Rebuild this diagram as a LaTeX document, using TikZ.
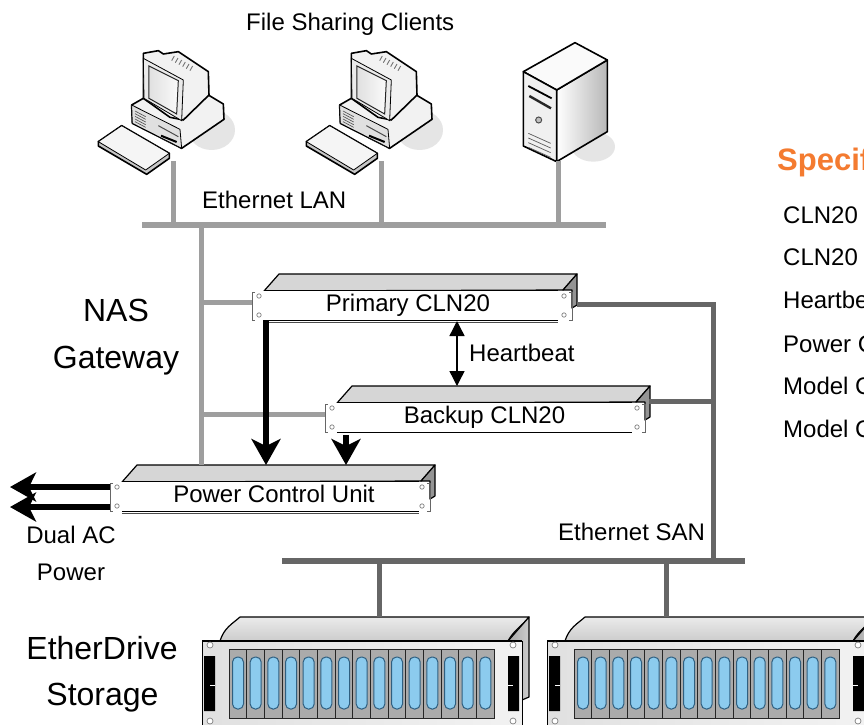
\documentclass[tikz,border=0pt]{standalone}
\usepackage{fontspec}
\setmainfont{Liberation Sans}
\usetikzlibrary{arrows.meta,calc,shadings}
\definecolor{lanGray}{HTML}{9E9E9E}
\definecolor{sanGray}{HTML}{666666}
\definecolor{orangeHead}{HTML}{F47B30}
\definecolor{bayBlue}{HTML}{8CCBEE}
\definecolor{bayEdge}{HTML}{2F5F80}
\newcommand{\szA}{\fontsize{24}{28}\selectfont}
\newcommand{\szB}{\fontsize{32}{36}\selectfont}
\tikzset{
  lanline/.style={draw=lanGray,line width=5pt},
  sanline/.style={draw=sanGray,line width=5pt},
  bus/.style={inner sep=0pt,minimum height=6pt},
  powerline/.style={draw=black,line width=6pt,-{Stealth[length=26pt,width=29pt,inset=7pt]}},
  unitface/.style={fill=white,inner sep=0pt,minimum height=29pt,text height=17pt,text depth=5pt,font=\szA},
  lbl/.style={anchor=base west,inner sep=0pt,font=\szA},
  bigl/.style={anchor=base,inner sep=0pt,font=\szB},
  edge3d/.style={draw=black,line width=1.2pt,line join=round},
  screw/.style={draw=gray,fill=white,line width=.7pt},
  outl/.style={draw=black,line width=1.6pt,line join=round},
}
% rack unit: name, X, Y, W, text
\newcommand{\rackunit}[5]{
  \path[edge3d,fill=black!16] (#2,#3) -- (#2+15,#3-17) -- (#2+313,#3-17) -- (#2+299,#3-1) -- cycle;
  \path[edge3d,fill=black!42] (#2+313,#3-17) -- (#2+299,#3-1) -- (#2+308,#3-1) -- (#2+308,#3+17) -- (#2+313,#3+14) -- cycle;
  \fill[white] (#2-11,#3) rectangle (#2+307,#3+29);
  \node[unitface,minimum width=#4pt] (#1) at (#2+#4/2,#3+14.5) {#5};
  \draw[black,line width=1.2pt] (#1.north west) -- (#1.north east);
  \draw[black,line width=1.1pt] (#1.south west) -- (#1.south east);
  \draw[black!60,line width=.8pt] (#2-9,#3+1) -- (#2-12,#3+1) -- (#2-12,#3+29) -- (#2-9,#3+29);
  \draw[black!60,line width=.8pt] (#2+305,#3+1) -- (#2+308,#3+1) -- (#2+308,#3+29) -- (#2+305,#3+29);
  \path[screw] (#2-5,#3+5) circle (2.2pt) (#2-5,#3+24) circle (2.2pt) (#2+300,#3+5) circle (2.2pt) (#2+300,#3+24) circle (2.2pt);
  \coordinate (#1ear) at (#2-12,#3+11.5);
  \coordinate (#1side) at (#2+313,#3+13);
}
% storage shelf, left edge X
\newcommand{\storageshelf}[1]{
  \begin{scope}[shift={(#1,0)}]
    \path[edge3d,top color=black!8,bottom color=black!20] (18,641) .. controls (22,628) and (30,624) .. (38,617) -- (327,617) .. controls (320,626) and (312,630) .. (306,641) -- cycle;
    \path[edge3d,left color=black!35,right color=black!20] (327,617) -- (306,641) -- (306,700) -- (320,700) -- (327,697) -- cycle;
    \path[left color=black!12,right color=black!5,draw=black,line width=.8pt] (0,641) -- (320,641) -- (320,730) -- (0,730) -- cycle;
    \draw[black,line width=1.3pt] (0,641) -- (320,641);
    \fill[black] (2,656) rectangle (13,711) (306,656) rectangle (317,711);
    \draw[white,line width=.8pt] (8,685) -- (13,685) (306,685) -- (311,685);
    \path[screw] (8,645) circle (3pt) (8,721) circle (3pt) (311,645) circle (3pt) (311,721) circle (3pt);
    \foreach \i in {0,...,14}{
      \path[fill=black!33,draw=black!85,line width=.9pt] (27+\i*17.67,649) rectangle (27+\i*17.67+17.67,718);
      \path[fill=bayBlue,draw=bayEdge,line width=1pt,rounded corners=5pt] (30.5+\i*17.67,657) rectangle (41.5+\i*17.67,709);
    }
  \end{scope}
}
% desktop computer, in units of the enlarged sketch
\newcommand{\desktop}[2]{
  \begin{scope}[shift={(#1,#2)},x=.3333pt,y=-.3333pt]
    \fill[black!10] (395,300) ellipse (70 and 60);
    \path[outl,fill=black!5] (155,225) -- (190,205) -- (385,195) -- (430,222) -- (432,268) -- (305,355) -- (157,280) -- cycle;
    \path[outl,fill=black!12,line width=.8pt] (155,225) -- (300,298) -- (305,355) -- (157,280) -- cycle;
    \foreach \k in {0,...,4}{\draw[black!70,line width=.6pt] (165,243+\k*8) -- (197,260+\k*8);}
    \draw[black!70,line width=1pt] (235,287) -- (295,320);
    \draw[black,line width=2pt] (243,317) -- (290,336);
    \path[outl,fill=black!5] (190,70) -- (235,62) -- (250,72) -- (295,65) -- (385,125) -- (387,195) -- (310,270) -- (270,262) -- (190,205) -- cycle;
    \path[draw=black,line width=.8pt,fill=black!8] (190,85) -- (310,150) -- (305,272) -- (192,205) -- cycle;
    \path[draw=black!85,line width=1pt,left color=black!12,right color=black!2] (207,108) -- (295,152) -- (290,252) -- (207,205) -- cycle;
    \foreach \k in {0,...,5}{\draw[black!55,line width=.9pt] (283+\k*11,78+\k*6) -- (275+\k*11,92+\k*6);}
    \path[outl,fill=black!22] (55,335) -- (125,287) -- (268,370) -- (268,385) -- (200,433) -- (55,348) -- cycle;
    \path[draw=black,line width=.8pt,fill=black!4] (55,335) -- (125,287) -- (268,370) -- (197,420) -- cycle;
  \end{scope}
}
\begin{document}
\begin{tikzpicture}[x=1pt,y=-1pt]
\useasboundingbox (0,0) rectangle (864,724);
\clip (0,0) rectangle (864,724);
\fill[white] (0,0) rectangle (864,724);

% clients
\desktop{80}{30}
\desktop{288}{30}
\begin{scope}[shift={(500,30)},x=.3333pt,y=-.3333pt]
  \fill[black!10] (280,350) ellipse (65 and 45);
  \path[outl,left color=white,right color=black!28] (170,180) -- (322,90) -- (322,305) -- (170,395) -- cycle;
  \path[outl,fill=black!2] (70,125) -- (225,38) -- (322,90) -- (170,180) -- cycle;
  \path[outl,fill=black!6] (70,125) -- (170,180) -- (170,395) -- (70,348) -- cycle;
  \draw[black,line width=1.8pt] (85,168) -- (155,205);
  \draw[black!85,line width=2.4pt] (88,198) -- (153,235);
  \draw[black!70,line width=1pt,fill=black!25] (116,270) circle (9);
  \foreach \k in {0,...,3}{\draw[black!65,line width=.7pt] (85,310+\k*14) -- (152,340+\k*14);}
\end{scope}
\coordinate (pcA) at (173,161);
\coordinate (pcB) at (381,161);
\coordinate (srv) at (558,161);

% buses
\node[bus,fill=lanGray,minimum width=464pt] (lan) at (374,225) {};
\node[bus,fill=sanGray,minimum width=463pt] (san) at (513.5,561) {};
\draw[lanline] (pcA) -- (pcA |- lan.center);
\draw[lanline] (pcB) -- (pcB |- lan.center);
\draw[lanline] (srv) -- (srv |- lan.center);

% units
\rackunit{primary}{264}{291}{294}{\hspace*{-6pt}Primary CLN20}
\rackunit{backup}{337}{403}{295}{Backup CLN20}
\rackunit{pcu}{122}{482}{297}{\hspace*{7pt}Power Control Unit}
\draw[black!70,line width=.9pt] (pcu.south west)++(0,2.5) -- ($(pcu.south east)+(0,2.5)$);
\draw[black!70,line width=.9pt] (primary.south west)++(0,2.5) -- ($(primary.south east)+(0,2.5)$);

% coordinates on the connectors
\coordinate (trunk) at (201,225);
\coordinate (pcuTop) at (201,465);
\coordinate (pwrA) at (266,465);
\coordinate (pwrB) at (346,465);
\coordinate (acA) at (10,487);
\coordinate (acB) at (10,507);
\coordinate (backupPort) at (649,401);
\coordinate (sanRiser) at (713,561);
\coordinate (hbTop) at (457,321);
\coordinate (hbBot) at (457,386);

% grey LAN connectors
\draw[lanline] (trunk) -- (pcuTop);
\draw[lanline] (trunk |- primaryear) -- (primaryear);
\draw[lanline] (trunk |- backupear) -- (backupear);
% dark SAN connectors
\draw[sanline] (primaryside) -- (primaryside -| sanRiser) -- (sanRiser);
\draw[sanline] (backupPort) -- (backupPort -| sanRiser);

% power
\draw[powerline] (pwrA |- primary.south) -- (pwrA);
\draw[powerline] ($(pwrB |- backup.south)+(0,3)$) -- (pwrB);
\draw[powerline] (acA -| pcuear) -- (acA);
\draw[powerline] (acB -| pcuear) -- (acB);

% heartbeat
\draw[black,line width=1.4pt,{Triangle[length=15pt,width=15pt]}-{Triangle[length=15pt,width=15pt]}] (hbTop) -- (hbBot);

% storage
\storageshelf{202}
\storageshelf{547}
\coordinate (stA) at (379,617);
\coordinate (stB) at (666,617);
\draw[sanline] (stA |- san.center) -- (stA);
\draw[sanline] (stB |- san.center) -- (stB);

% labels
\node[lbl] (tClients) at (246,30) {File Sharing Clients};
\node[lbl] (tLan) at (202,208) {Ethernet LAN};
\node[lbl] (tHb) at (469,361) {Heartbeat};
\node[lbl] (tSan) at (558,540) {Ethernet SAN};
\node[lbl,anchor=base] (tDual) at (71,543) {Dual AC};
\node[lbl,anchor=base] (tPower) at (71,580) {Power};
\node[bigl] (tNas) at (116,321) {NAS};
\node[bigl] (tGw) at (116,368) {Gateway};
\node[bigl] (tEd) at (102,659) {EtherDrive};
\node[bigl] (tSt) at (102.5,705) {Storage};
\node[lbl,font=\fontsize{31}{34}\selectfont\bfseries,text=orangeHead] (tSpec) at (777,170) {Specif};
\node[lbl] (tA) at (783,223) {CLN20};
\node[lbl] (tB) at (783,265) {CLN20};
\node[lbl] (tC) at (783,308) {Heartbe};
\node[lbl] (tD) at (783,352) {Power C};
\node[lbl] (tE) at (783,394) {Model C};
\node[lbl] (tF) at (783,437) {Model C};
\end{tikzpicture}
\end{document}
